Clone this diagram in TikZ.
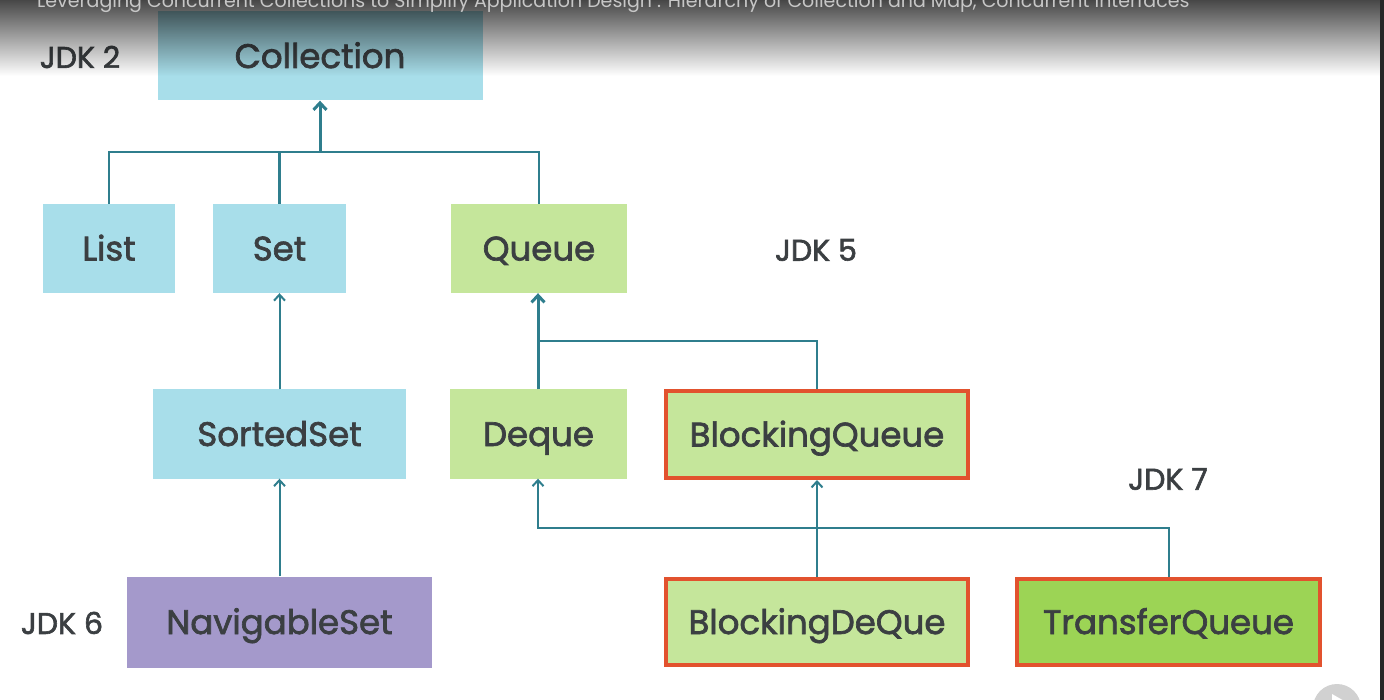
\documentclass[tikz,border=0pt]{standalone}
\usepackage{fontspec}
\setmainfont{Poppins}
\newfontfamily\cajafont{Poppins}[FakeBold=2]
\usetikzlibrary{arrows.meta,positioning}
\definecolor{JAzul}{HTML}{A8DEEA}
\definecolor{JVerde}{HTML}{C5E69B}
\definecolor{JVerdeFuerte}{HTML}{9CD455}
\definecolor{JMorado}{HTML}{A499CB}
\definecolor{JRojo}{HTML}{E2522E}
\definecolor{JLinea}{HTML}{2F7E8D}
\definecolor{JTexto}{HTML}{3B3F42}

\begin{document}
\begin{tikzpicture}[x=1pt,y=-1pt,
 caja/.style={text=JTexto,inner sep=0pt,minimum height=89pt,text height=24pt,text depth=0pt,font=\cajafont\fontsize{34}{40}\selectfont},
 nuevo/.style={draw=JRojo,line width=4pt},
 jdk/.style={text=JTexto,inner sep=0pt,font=\cajafont\fontsize{30}{36}\selectfont},
 enlace/.style={draw=JLinea,line width=2pt,-{Straight Barb[length=6pt,width=11pt,line width=2pt]}},
 bus/.style={draw=JLinea,line width=2.2pt},
 grueso/.style={draw=JLinea,line width=3pt,-{Straight Barb[length=7pt,width=13pt,line width=3pt]}}]
\useasboundingbox (0,0) rectangle (1384,700);
\clip (0,0) rectangle (1384,700);
% interfaces
\node[caja,fill=JAzul,minimum width=325pt] (coll) at (320,56) {Collection};
\node[caja,fill=JAzul,minimum width=132pt] (list) at (109,248.5) {List};
\node[caja,fill=JAzul,minimum width=133pt] (set) at (279.5,248.5) {Set};
\node[caja,fill=JVerde,minimum width=176pt] (queue) at (539,248.5) {Queue};
\node[caja,fill=JAzul,minimum width=253pt] (sorted) at (279.5,434) {SortedSet};
\node[caja,fill=JVerde,minimum width=177pt] (deque) at (538.5,434) {Deque};
\node[caja,nuevo,fill=JVerde,minimum width=302pt,minimum height=87pt] (bq) at (817,434.5) {BlockingQueue};
\node[caja,fill=JMorado,minimum width=305pt,minimum height=91pt] (navset) at (279.5,622) {NavigableSet};
\node[caja,nuevo,fill=JVerde,minimum width=302pt,minimum height=86pt] (bdq) at (817,622) {BlockingDeQue};
\node[caja,nuevo,fill=JVerdeFuerte,minimum width=303pt,minimum height=86pt] (tq) at (1168.5,622) {TransferQueue};
% versiones
\node[jdk] (jdk2) at (80,57) {JDK 2};
\node[jdk] (jdk5) at (816,250) {JDK 5};
\node[jdk] (jdk7) at (1168,479) {JDK 7};
\node[jdk] (jdk6) at (62,623) {JDK 6};
% puntos de union
\coordinate (hubA) at (320,152);
\coordinate (hubB) at (538,341);
\coordinate (hubC) at (538,528);
% conectores
\draw[bus] (list.north) |- (queue.north |- hubA) -- (queue.north);
\draw[bus] (set.north) -- (set.north |- hubA);
\draw[grueso] (hubA) -- (coll.south -| hubA);
\draw[bus] (bq.north) |- (hubB);
\draw[grueso] (deque.north -| hubB) -- (queue.south -| hubB);
\draw[enlace] (sorted) -- (set);
\draw[enlace] (navset) -- (sorted);
\draw[enlace] (tq.north) |- (hubC) -- (deque.south -| hubC);
\draw[enlace] (bdq) -- (bq);
% barra del reproductor
\shade[top color=black!72,bottom color=white,blend mode=multiply] (0,0) rectangle (1384,76);
\node[anchor=base west,inner sep=0pt,text=black!22,font=\fontsize{19}{21}\selectfont] (titulo) at (37,8)
 {Leveraging Concurrent Collections to Simplify Application Design : Hierarchy of Collection and Map, Concurrent Interfaces};
\fill[black!85] (1380,0) rectangle (1384,700);
\fill[black!18] (1337,708) circle (24);
\fill[white] (1332,694) -- (1346,702) -- (1332,710) -- cycle;
\end{tikzpicture}
\end{document}
